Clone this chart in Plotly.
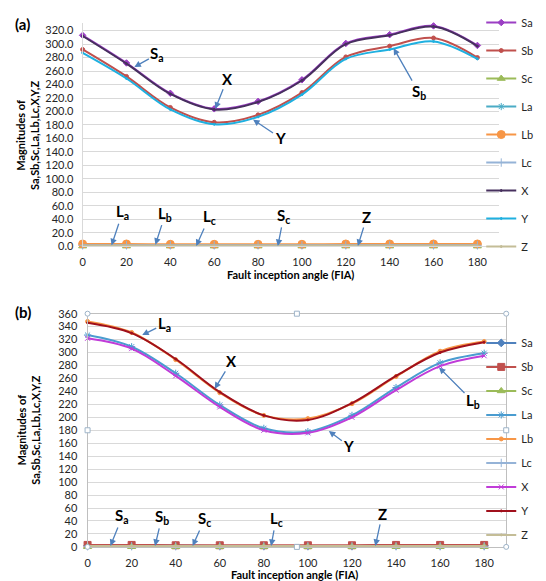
import plotly.graph_objects as go

# ---------------- data ----------------
fia = [0, 20, 40, 60, 80, 100, 120, 140, 160, 180]
series_names = ["Sa", "Sb", "Sc", "La", "Lb", "Lc", "X", "Y", "Z"]

# panel (a)
a_Sa = [313, 272, 227, 204, 215, 247, 301, 314, 327, 298]
a_Sb = [292, 252, 206, 184, 195, 228, 281, 297, 309, 280]
a_Sc = [0.3, 0.3, 0.3, 0.3, 0.3, 0.3, 0.3, 0.3, 0.3, 0.3]
a_La = [2.0, 2.0, 1.8, 1.8, 1.8, 1.8, 2.0, 2.0, 2.0, 2.0]
a_Lb = [3.5, 3.5, 3.0, 3.0, 3.0, 3.0, 3.5, 3.5, 3.5, 3.5]
a_Lc = [1.5, 1.5, 1.5, 1.5, 1.5, 1.5, 1.5, 1.5, 1.5, 1.5]
a_X = [312, 271, 226, 203, 214, 246, 300, 313, 326, 297]
a_Y = [287, 249, 203, 181, 192, 225, 278, 292, 304, 278]
a_Z = [1.0, 1.0, 1.0, 1.0, 1.0, 1.0, 1.0, 1.0, 1.0, 1.0]

# panel (b)
b_Sa = [2.0, 2.0, 2.0, 1.5, 1.5, 1.5, 1.5, 2.0, 2.0, 2.0]
b_Sb = [3.0, 3.0, 2.5, 2.5, 2.5, 2.5, 2.5, 3.0, 3.0, 3.0]
b_Sc = [0.3, 0.3, 0.3, 0.3, 0.3, 0.3, 0.3, 0.3, 0.3, 0.3]
b_La = [327, 309, 268, 219, 183, 178, 203, 246, 284, 299]
b_Lb = [348, 331, 289, 238, 203, 198, 221, 263, 302, 317]
b_Lc = [1.0, 1.0, 1.0, 1.0, 1.0, 1.0, 1.0, 1.0, 1.0, 1.0]
b_X = [322, 306, 264, 216, 180, 176, 200, 242, 279, 295]
b_Y = [346, 330, 290, 239, 203, 196, 222, 264, 300, 316]
b_Z = [1.5, 1.5, 1.5, 1.5, 1.5, 1.5, 1.5, 1.5, 1.5, 1.5]

a_ticks = [0, 20, 40, 60, 80, 100, 120, 140, 160, 180, 200, 220, 240, 260, 280, 300, 320]
b_ticks = [0, 20, 40, 60, 80, 100, 120, 140, 160, 180, 200, 220, 240, 260, 280, 300, 320, 340, 360]

FONT = "Lato"

a_style = {
    "Sa": dict(color="#9B3FC4", symbol="diamond", size=5),
    "Sb": dict(color="#C0504D", symbol="circle", size=4),
    "Sc": dict(color="#9BBB59", symbol="triangle-up", size=7),
    "La": dict(color="#4BACC6", symbol="asterisk-open", size=6),
    "Lb": dict(color="#F79646", symbol="circle", size=8),
    "Lc": dict(color="#95B3D7", symbol="cross-thin-open", size=6),
    "X": dict(color="#47305E", symbol="circle", size=2),
    "Y": dict(color="#1FB0E0", symbol="circle", size=2),
    "Z": dict(color="#C4BD97", symbol="circle", size=2),
}
b_style = {
    "Sa": dict(color="#4F81BD", symbol="diamond", size=6),
    "Sb": dict(color="#C0504D", symbol="square", size=7),
    "Sc": dict(color="#9BBB59", symbol="triangle-up", size=7),
    "La": dict(color="#4A9CD0", symbol="asterisk-open", size=6),
    "Lb": dict(color="#F79646", symbol="circle", size=4),
    "Lc": dict(color="#95B3D7", symbol="cross-thin-open", size=6),
    "X": dict(color="#C03CD8", symbol="x-thin-open", size=5),
    "Y": dict(color="#A0101C", symbol="circle", size=2),
    "Z": dict(color="#C4BD97", symbol="circle", size=2),
}

a_data = [a_Sa, a_Sb, a_Sc, a_La, a_Lb, a_Lc, a_X, a_Y, a_Z]
b_data = [b_Sa, b_Sb, b_Sc, b_La, b_Lb, b_Lc, b_X, b_Y, b_Z]

fig = go.Figure()
for name, vals in zip(series_names, a_data):
    st = a_style[name]
    fig.add_trace(go.Scatter(
        x=fia, y=vals, name=name, mode="lines+markers",
        line=dict(color=st["color"], width=2, shape="spline", smoothing=1),
        marker=dict(color=st["color"], symbol=st["symbol"], size=st["size"],
                    line=dict(color=st["color"], width=1)),
        xaxis="x", yaxis="y", legend="legend", legendgroup="a" + name,
        cliponaxis=False))
for name, vals in zip(series_names, b_data):
    st = b_style[name]
    fig.add_trace(go.Scatter(
        x=fia, y=vals, name=name, mode="lines+markers",
        line=dict(color=st["color"], width=2, shape="spline", smoothing=1),
        marker=dict(color=st["color"], symbol=st["symbol"], size=st["size"],
                    line=dict(color=st["color"], width=1)),
        xaxis="x2", yaxis="y2", legend="legend2", legendgroup="b" + name,
        cliponaxis=False))

tickfont = dict(family=FONT, size=11, color="#262626")
grid = "#D9D9D9"

fig.update_layout(
    width=546, height=581,
    margin=dict(l=0, r=0, t=0, b=0),
    paper_bgcolor="white", plot_bgcolor="white",
    font=dict(family=FONT, size=11, color="#262626"),
    xaxis=dict(domain=[0.1319, 0.8993], range=[0, 190], tickvals=fia,
               showgrid=False, zeroline=False, showline=True, linecolor=grid,
               tickfont=tickfont, ticks="", ticklabelstandoff=5, anchor="y"),
    yaxis=dict(domain=[0.5938, 0.9885], range=[0, 332], tickvals=a_ticks,
               tickformat=".1f", gridcolor=grid, zeroline=False, showline=True,
               linecolor=grid, tickfont=tickfont, ticks="", ticklabelstandoff=6,
               anchor="x"),
    xaxis2=dict(domain=[0.141, 0.912], range=[0, 190], tickvals=fia,
                showgrid=False, zeroline=False, showline=True, mirror=True,
                linecolor="#BFBFBF", tickfont=tickfont, ticks="",
                ticklabelstandoff=6, anchor="y2"),
    yaxis2=dict(domain=[0.0637, 0.475], range=[0, 360], tickvals=b_ticks,
                gridcolor=grid, zeroline=False, showline=True, mirror=True,
                linecolor="#BFBFBF", tickfont=tickfont, ticks="",
                ticklabelstandoff=7, anchor="x2"),
    legend=dict(x=0.866, y=1.014, xanchor="left", yanchor="top",
                font=dict(family=FONT, size=11, color="#262626"),
                itemwidth=30, tracegroupgap=9, bgcolor="rgba(0,0,0,0)"),
    legend2=dict(x=0.866, y=0.449, xanchor="left", yanchor="top",
                 font=dict(family=FONT, size=11, color="#262626"),
                 itemwidth=30, tracegroupgap=5, bgcolor="rgba(0,0,0,0)"),
    showlegend=True,
)

ann = []
# panel labels
ann.append(dict(text="<b>(a)</b>", x=2 / 546, y=1 - 8 / 581, xref="paper", yref="paper",
                xanchor="left", yanchor="middle", showarrow=False,
                font=dict(family=FONT, size=15, color="black")))
ann.append(dict(text="<b>(b)</b>", x=2 / 546, y=1 - 303 / 581, xref="paper", yref="paper",
                xanchor="left", yanchor="middle", showarrow=False,
                font=dict(family=FONT, size=15, color="black")))
# axis titles
ytitle = "<b>Magnitudes of<br>Sa,Sb,Sc,La,Lb,Lc,X,Y,Z</b>"
ann.append(dict(text=ytitle, x=16 / 546, y=1 - 122 / 581, xref="paper", yref="paper",
                textangle=-90, showarrow=False, xanchor="center", yanchor="middle",
                font=dict(family=FONT, size=11, color="black")))
ann.append(dict(text=ytitle, x=18 / 546, y=1 - 424 / 581, xref="paper", yref="paper",
                textangle=-90, showarrow=False, xanchor="center", yanchor="middle",
                font=dict(family=FONT, size=11, color="black")))
xtitle = "<b>Fault inception angle (FIA)</b>"
ann.append(dict(text=xtitle, x=281 / 546, y=1 - 265 / 581, xref="paper", yref="paper",
                showarrow=False, xanchor="center", yanchor="middle",
                font=dict(family=FONT, size=11, color="black")))
ann.append(dict(text=xtitle, x=285 / 546, y=1 - 572 / 581, xref="paper", yref="paper",
                showarrow=False, xanchor="center", yanchor="middle",
                font=dict(family=FONT, size=11, color="black")))

arrow_col = "#4F81BD"
def pointer(text, x, y, ax, ay, xr, yr):
    return dict(text="<b>" + text + "</b>", x=x, y=y, ax=ax, ay=ay, xref=xr, yref=yr,
                showarrow=True, arrowhead=2, arrowsize=1, arrowwidth=1.3,
                arrowcolor=arrow_col,
                font=dict(family=FONT, size=15, color="black"))

# panel (a) pointers
ann += [
    pointer("S<sub>a</sub>", 23.6, 266, 23, -13, "x", "y"),
    pointer("X", 60.5, 204, 12, -30, "x", "y"),
    pointer("Y", 77.7, 188, 27, 18, "x", "y"),
    pointer("S<sub>b</sub>", 141.8, 294, 25, 44, "x", "y"),
    pointer("L<sub>a</sub>", 13.2, 1.5, 11, -33, "x", "y"),
    pointer("L<sub>b</sub>", 33.2, 2.5, 10, -31, "x", "y"),
    pointer("L<sub>c</sub>", 51.8, 0.5, 13, -29, "x", "y"),
    pointer("S<sub>c</sub>", 89.0, 0.5, 6, -30, "x", "y"),
    pointer("Z", 125.5, 0.5, 9, -29, "x", "y"),
]
# panel (b) pointers
ann += [
    pointer("L<sub>a</sub>", 24.8, 327, 22, -11, "x2", "y2"),
    pointer("X", 57.7, 244, 17, -28, "x2", "y2"),
    pointer("Y", 109.5, 179, 20, 15, "x2", "y2"),
    pointer("L<sub>b</sub>", 159.5, 277, 34, 34, "x2", "y2"),
    pointer("S<sub>a</sub>", 10.4, 1.5, 12, -30, "x2", "y2"),
    pointer("S<sub>b</sub>", 30.6, 1.5, 7, -29, "x2", "y2"),
    pointer("S<sub>c</sub>", 47.7, 1.5, 12, -27, "x2", "y2"),
    pointer("L<sub>c</sub>", 83.3, 1.5, 5, -27, "x2", "y2"),
    pointer("Z", 130.6, 1.5, 7, -32, "x2", "y2"),
]
fig.update_layout(annotations=ann)

# selection handles on panel (b) plot area
shapes = []
for (hx, hy, kind) in [(0, 0, "circle"), (1, 0, "circle"), (0, 1, "circle"), (1, 1, "circle"),
                       (0.5, 1, "rect"), (0, 0.5, "rect"), (1, 0.5, "rect"), (0.5, 0, "rect")]:
    shapes.append(dict(type=kind, xref="x2 domain", yref="y2 domain",
                       xsizemode="pixel", ysizemode="pixel", xanchor=hx, yanchor=hy,
                       x0=-2.5, x1=2.5, y0=-2.5, y1=2.5,
                       line=dict(color="#9DB3C8", width=1), fillcolor="white"))
fig.update_layout(shapes=shapes)

fig.write_html("out.html")
